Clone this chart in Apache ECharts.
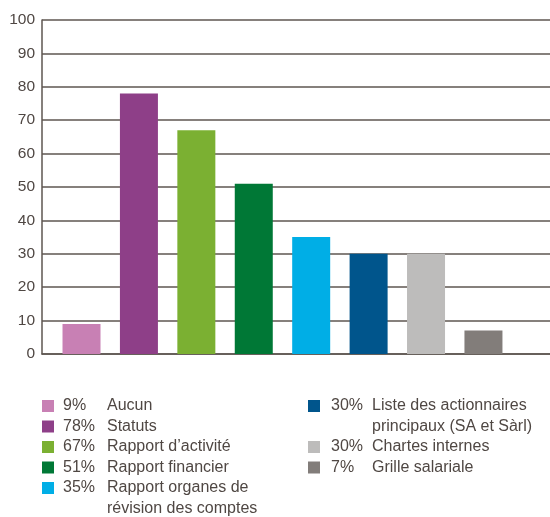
<!DOCTYPE html>
<html>
<head>
<meta charset="utf-8">
<script src="https://cdn.jsdelivr.net/npm/echarts@6/dist/echarts.min.js"></script>
<style>
  html, body { margin: 0; padding: 0; background: #fff; }
  #chart { width: 550px; height: 517px; }
</style>
</head>
<body>
<div id="chart"></div>
<script>
// Documents provided, share of respondents (%)
const categories = [
  'Aucun',
  'Statuts',
  'Rapport d\u2019activité',
  'Rapport financier',
  'Rapport organes de\nrévision des comptes',
  'Liste des actionnaires\nprincipaux (SA et Sàrl)',
  'Chartes internes',
  'Grille salariale'
];
const values = [9, 78, 67, 51, 35, 30, 30, 7];
const colors = ['#c880b4', '#8e3f88', '#7bb032', '#007836', '#00aee6', '#00558c', '#bdbcbb', '#827d7a'];
const yTicks = [0, 10, 20, 30, 40, 50, 60, 70, 80, 90, 100];

const textColor = '#4f4743';
const lineColor = '#5e5650';
const font = '"Liberation Sans", Arial, Helvetica, sans-serif';

// Legend: two columns, first five items left, the rest right
const legendGraphics = [];
const lineStep = 20.5;
const legendFont = '16px ' + font;
const columns = [
  { items: [0, 1, 2, 3, 4], sq: 42, pct: 63, lab: 107 },
  { items: [5, 6, 7], sq: 308, pct: 331, lab: 372 }
];
columns.forEach(col => {
  let line = 0;
  col.items.forEach(i => {
    const yc = 406 + line * lineStep;
    legendGraphics.push({
      type: 'rect',
      shape: { x: col.sq, y: yc - 6, width: 12, height: 12 },
      style: { fill: colors[i] }
    });
    legendGraphics.push({
      type: 'text',
      x: col.pct, y: yc,
      style: { text: values[i] + '%', font: legendFont, fill: textColor, verticalAlign: 'middle' }
    });
    legendGraphics.push({
      type: 'text',
      x: col.lab, y: yc - lineStep / 2,
      style: {
        text: categories[i], font: legendFont, fill: textColor,
        lineHeight: lineStep, verticalAlign: 'top'
      }
    });
    line += categories[i].split('\n').length;
  });
});

const chart = echarts.init(document.getElementById('chart'), null, { renderer: 'canvas' });
chart.setOption({
  animation: false,
  backgroundColor: '#ffffff',
  grid: { left: 42, right: 0, top: 20, bottom: 163, containLabel: false },
  xAxis: {
    type: 'value',
    min: -0.688,
    max: 8.159,
    axisLine: { show: true, onZero: false, lineStyle: { color: lineColor, width: 1.5 } },
    axisTick: { show: false },
    axisLabel: { show: false },
    splitLine: { show: false }
  },
  yAxis: {
    type: 'value',
    min: yTicks[0],
    max: yTicks[yTicks.length - 1],
    interval: 10,
    axisLine: { show: true, onZero: false, lineStyle: { color: lineColor, width: 1.5 } },
    axisTick: { show: false },
    axisLabel: { color: textColor, fontSize: 15.5, fontFamily: font, margin: 7 },
    splitLine: { show: true, lineStyle: { color: lineColor, width: 1.5 } }
  },
  series: [{
    type: 'bar',
    barWidth: 38,
    data: values.map((v, i) => ({ value: [i, v], itemStyle: { color: colors[i] } }))
  }],
  graphic: legendGraphics
});
</script>
</body>
</html>
